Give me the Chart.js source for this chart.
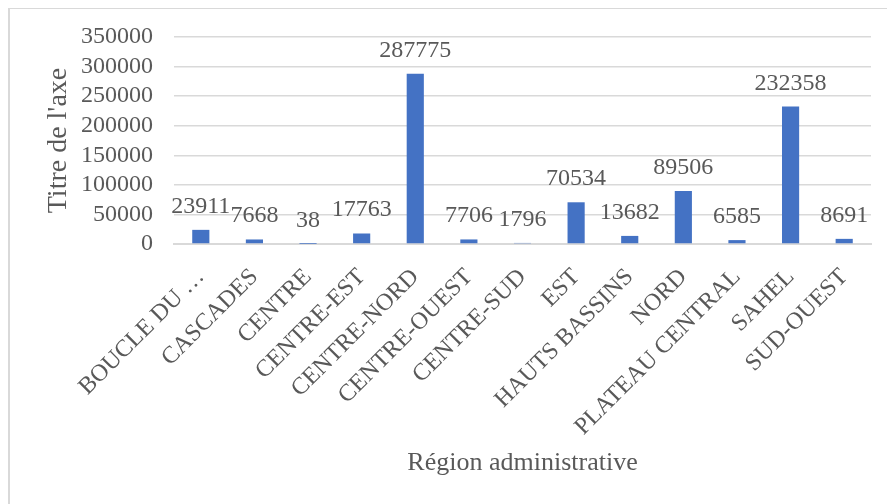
<!DOCTYPE html>
<html>
<head>
<meta charset="utf-8">
<script src="https://cdn.jsdelivr.net/npm/chart.js@4/dist/chart.umd.min.js"></script>
<style>
  html, body { margin: 0; padding: 0; background: #fff; }
  #wrap { position: relative; width: 887px; height: 504px; overflow: hidden; }
  #frame { position: absolute; left: 8px; top: 8px; right: -4px; bottom: -4px;
           border-left: 2px solid #d9d9d9; border-top: 1px solid #d9d9d9; }
  #chart { position: absolute; left: 0; top: 0; }
</style>
</head>
<body>
<div id="wrap">
  <div id="frame"></div>
  <canvas id="chart" width="887" height="504"></canvas>
</div>
<script>
const regions = ['BOUCLE DU …', 'CASCADES', 'CENTRE', 'CENTRE-EST', 'CENTRE-NORD', 'CENTRE-OUEST',
    'CENTRE-SUD', 'EST', 'HAUTS BASSINS', 'NORD', 'PLATEAU CENTRAL', 'SAHEL', 'SUD-OUEST'];
const values = [23911, 7668, 38, 17763, 287775, 7706, 1796, 70534, 13682, 89506, 6585, 232358, 8691];
const yTicks = [0, 50000, 100000, 150000, 200000, 250000, 300000, 350000];

const serif = "'Liberation Serif', 'Times New Roman', serif";
const textColor = '#595959';

// valeurs au-dessus des barres
const barLabels = {
    id: 'barLabels',
    afterDatasetsDraw(chart) {
        const ctx = chart.ctx;
        const meta = chart.getDatasetMeta(0);
        ctx.save();
        ctx.font = '24px ' + serif;
        ctx.fillStyle = textColor;
        ctx.textAlign = 'center';
        ctx.textBaseline = 'alphabetic';
        meta.data.forEach((bar, i) => {
            ctx.fillText(String(values[i]), bar.x, bar.y - 17);
        });
        ctx.restore();
    }
};

new Chart(document.getElementById('chart'), {
    type: 'bar',
    data: {
        labels: regions,
        datasets: [
            {
                label: 'Valeurs',
                data: values,
                backgroundColor: '#4472c4',
                borderWidth: 0,
                categoryPercentage: 1,
                barPercentage: 0.32
            }
        ]
    },
    options: {
        responsive: false,
        animation: false,
        layout: {
            padding: { left: 38, right: 16, top: 37, bottom: 21 }
        },
        scales: {
            x: {
                afterFit: scale => { scale.height = 239; },
                grid: { display: false },
                border: { display: true, color: '#d9d9d9', width: 2 },
                ticks: {
                    autoSkip: false,
                    minRotation: 45,
                    maxRotation: 45,
                    padding: 11,
                    color: textColor,
                    font: { family: serif, size: 24 }
                },
                title: {
                    display: true,
                    text: 'Région administrative',
                    color: textColor,
                    padding: { top: 4, bottom: 4 },
                    font: { family: serif, size: 26 }
                }
            },
            y: {
                min: 0,
                max: 350000,
                afterFit: scale => { scale.width = 136; },
                afterBuildTicks: scale => { scale.ticks = yTicks.map(v => ({ value: v })); },
                grid: { color: '#d9d9d9', lineWidth: 1.5, drawTicks: false },
                border: { display: false },
                ticks: {
                    autoSkip: false,
                    padding: 21,
                    color: textColor,
                    font: { family: serif, size: 24 },
                    callback: value => String(value)
                },
                title: {
                    display: true,
                    text: "Titre de l'axe",
                    color: textColor,
                    padding: { top: 4, bottom: 4 },
                    font: { family: serif, size: 28 }
                }
            }
        },
        plugins: {
            legend: { display: false },
            tooltip: { enabled: false }
        }
    },
    plugins: [barLabels]
});
</script>
</body>
</html>
